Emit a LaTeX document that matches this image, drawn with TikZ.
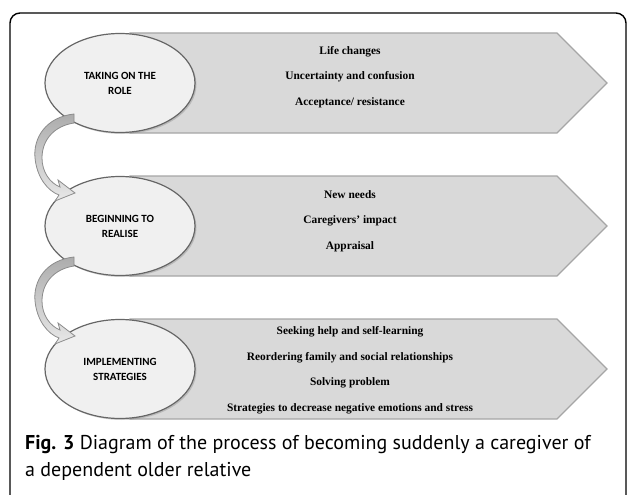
\documentclass[tikz,border=0pt]{standalone}
\usepackage{fontspec}
\setmainfont{Liberation Serif}
\newfontfamily\ovalfont{Carlito}
\newfontfamily\captionfont{PT Sans}
\usetikzlibrary{shapes.geometric,shadows,positioning}

\begin{document}
\begin{tikzpicture}[x=1pt,y=-1pt,
    stage/.style={ellipse, draw=black!60, line width=1.2pt, fill=gray!12,
        minimum width=150pt, minimum height=99pt, align=center,
        font=\ovalfont\bfseries\fontsize{11}{15}\selectfont,
        drop shadow={opacity=0.35, shadow xshift=1.5pt, shadow yshift=-1.5pt}},
    band/.style={draw=black!35, line width=1.2pt, fill=gray!30},
    items/.style={align=center, font=\bfseries\fontsize{11.4}{25.5}\selectfont},
    turn/.style={draw=black!45, line width=0.8pt, top color=gray!65, bottom color=gray!18}]
    \useasboundingbox (0,0) rectangle (627,495);

    % Frame
    \draw[line width=1.4pt, rounded corners=10pt] (10,495) -- (10,13) -- (626,13) -- (626,495);

    % Chevrons
    \foreach \dy in {0,143,286}
        \draw[band] (130,33+\dy) -- (557,33+\dy) -- (607,83+\dy) -- (557,133+\dy) -- (130,133+\dy) -- cycle;

    % Stages
    \node[stage] (role) at (120,83) {TAKING ON THE\\ROLE};
    \node[stage] (realise) at (120,226) {BEGINNING TO\\REALISE};
    \node[stage] (strategies) at (120,369) {IMPLEMENTING\\STRATEGIES};

    % Contents
    \node[items] (role-items) at (350,77) {Life changes\\Uncertainty and confusion\\Acceptance/ resistance};
    \node[items] (realise-items) at (350,221) {New needs\\Caregivers' impact\\Appraisal};
    \node[items] (strategies-items) at (350,370) {Seeking help and self-learning\\Reordering family and social relationships\\Solving problem\\Strategies to decrease negative emotions and stress};

    % Curved arrows
    \foreach \from in {role,realise}
        \path[turn, shift={(\from.center)}] (-46,31) .. controls (-74,34) and (-87,55) .. (-85,75)
            .. controls (-83,95) and (-72,108) .. (-61,112) -- (-65,118) -- (-45,110) -- (-62,97) -- (-60,104)
            .. controls (-70,100) and (-78,89) .. (-78,75) .. controls (-78,57) and (-66,43) .. (-46,40) -- cycle;

    % Caption
    \node[anchor=north west, align=left, inner sep=0pt, font=\captionfont\fontsize{20}{27}\selectfont]
        (caption) at (25,435) {\textbf{Fig. 3} Diagram of the process of becoming suddenly a caregiver of\\a dependent older relative};
\end{tikzpicture}
\end{document}
